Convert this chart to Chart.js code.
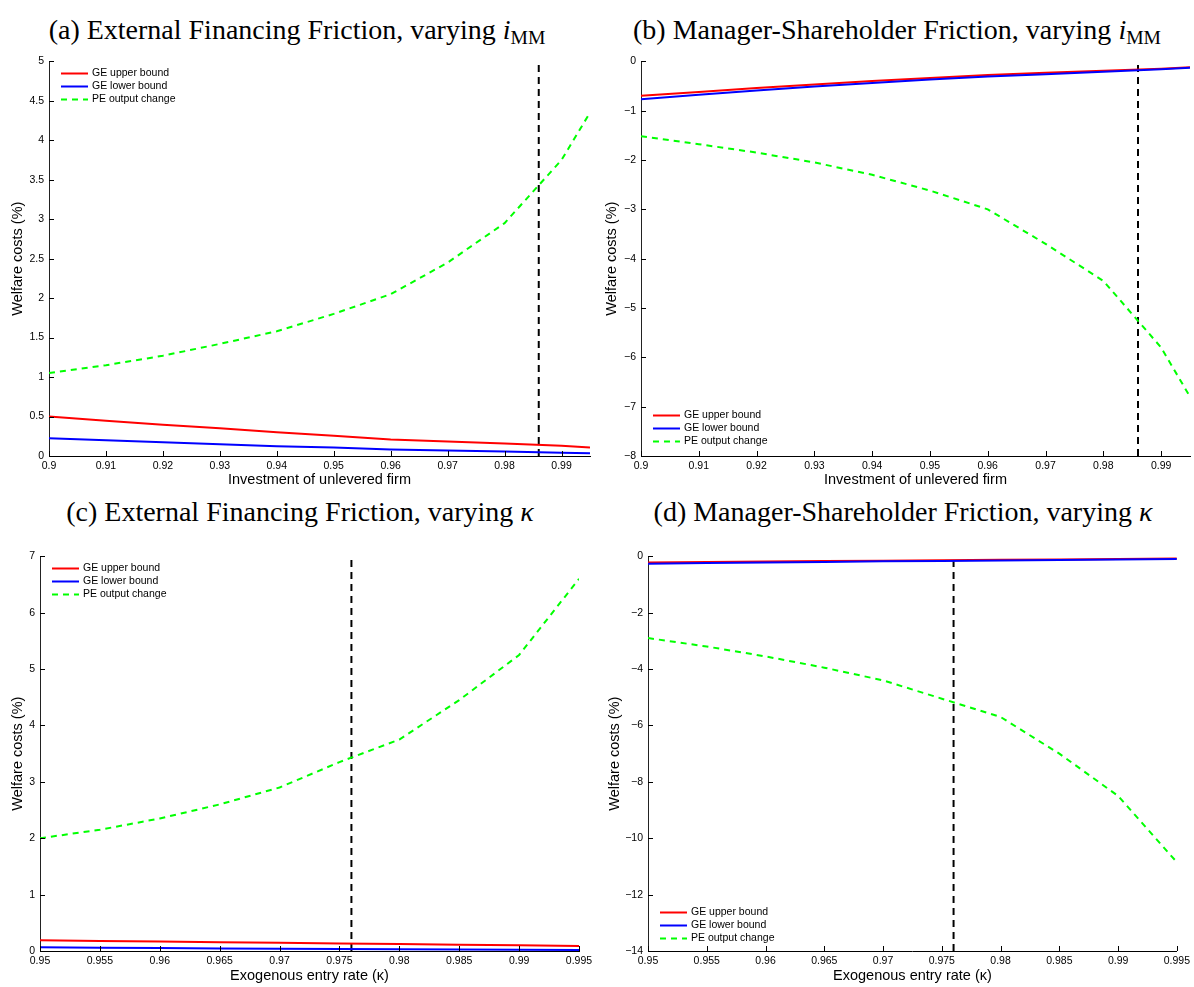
<!DOCTYPE html>
<html>
<head>
<meta charset="utf-8">
<script src="https://cdn.jsdelivr.net/npm/chart.js@4.4.1/dist/chart.umd.min.js"></script>
<style>
  body { margin: 0; background: #fff; }
  #wrap { position: relative; width: 1194px; height: 987px; overflow: hidden; }
  canvas { position: absolute; }
  .ttl {
    position: absolute;
    transform: translateX(-50%);
    white-space: nowrap;
    font-family: "Liberation Serif", "Times New Roman", serif;
    font-size: 28px;
    line-height: 1;
    color: #000;
  }
  .ttl sub { font-size: 70%; vertical-align: -0.25em; line-height: 0; }
</style>
</head>
<body>
<div id="wrap">
  <div class="ttl" style="left:297px; top:16px">(a) External Financing Friction, varying <i>i</i><sub>MM</sub></div>
  <div class="ttl" style="left:897px; top:16px">(b) Manager-Shareholder Friction, varying <i>i</i><sub>MM</sub></div>
  <div class="ttl" style="left:300px; top:498px">(c) External Financing Friction, varying <i>κ</i></div>
  <div class="ttl" style="left:903px; top:498px">(d) Manager-Shareholder Friction, varying <i>κ</i></div>
  <canvas id="ca" width="600" height="442" style="left:0px; top:50px"></canvas>
  <canvas id="cb" width="597" height="442" style="left:597px; top:50px"></canvas>
  <canvas id="cc" width="600" height="442" style="left:0px; top:545px"></canvas>
  <canvas id="cd" width="597" height="442" style="left:597px; top:545px"></canvas>
</div>
<script>
// x grids
const xInvest = [0.9, 0.91, 0.92, 0.93, 0.94, 0.95, 0.96, 0.97, 0.98, 0.99, 0.995];
const xKappa = [0.95, 0.955, 0.96, 0.965, 0.97, 0.975, 0.98, 0.985, 0.99, 0.995];

// (a) external financing, varying i_MM
const aUpper = [0.50, 0.445, 0.395, 0.35, 0.30, 0.255, 0.21, 0.185, 0.158, 0.13, 0.107];
const aLower = [0.226, 0.20, 0.175, 0.15, 0.125, 0.107, 0.081, 0.07, 0.058, 0.042, 0.034];
const aPE = [1.05, 1.15, 1.27, 1.42, 1.58, 1.80, 2.05, 2.45, 2.95, 3.75, 4.35];

// (b) manager-shareholder, varying i_MM
const bUpper = [-0.70, -0.62, -0.54, -0.47, -0.40, -0.34, -0.28, -0.23, -0.19, -0.15, -0.12];
const bLower = [-0.77, -0.68, -0.59, -0.51, -0.44, -0.37, -0.31, -0.26, -0.21, -0.16, -0.13];
const bPE = [-1.52, -1.68, -1.85, -2.05, -2.3, -2.62, -3.0, -3.7, -4.45, -5.8, -6.8];

// (c) external financing, varying kappa
const cUpper = [0.19, 0.178, 0.167, 0.156, 0.145, 0.134, 0.124, 0.113, 0.102, 0.09];
const cLower = [0.065, 0.058, 0.052, 0.046, 0.041, 0.036, 0.031, 0.026, 0.022, 0.018];
const cPE = [2.0, 2.15, 2.35, 2.6, 2.9, 3.35, 3.75, 4.45, 5.25, 6.6];

// (d) manager-shareholder, varying kappa
const dUpper = [-0.22, -0.2, -0.185, -0.17, -0.155, -0.14, -0.125, -0.11, -0.095, -0.08];
const dLower = [-0.26, -0.24, -0.22, -0.2, -0.18, -0.165, -0.15, -0.13, -0.115, -0.1];
const dPE = [-2.9, -3.2, -3.55, -3.95, -4.4, -5.05, -5.7, -7.0, -8.5, -10.85];

// benchmark (vertical dashed line)
const markInvest = 0.986;
const markKappa = 0.976;

// tick labels
const xTicksInvest = [0.9, 0.91, 0.92, 0.93, 0.94, 0.95, 0.96, 0.97, 0.98, 0.99];
const xTicksKappa = [0.95, 0.955, 0.96, 0.965, 0.97, 0.975, 0.98, 0.985, 0.99, 0.995];
const yTicksA = [0, 0.5, 1, 1.5, 2, 2.5, 3, 3.5, 4, 4.5, 5];
const yTicksB = [0, -1, -2, -3, -4, -5, -6, -7, -8];
const yTicksC = [0, 1, 2, 3, 4, 5, 6, 7];
const yTicksD = [0, -2, -4, -6, -8, -10, -12, -14];

const legendLabels = ["GE upper bound", "GE lower bound", "PE output change"];

Chart.defaults.font.family = "'Liberation Sans', Arial, sans-serif";
Chart.defaults.color = "#000";

const pts = (xs, ys) => xs.map((x, i) => ({ x: x, y: ys[i] }));
const fmt = (v) => String(v).replace("-", "\u2212");

// MATLAB style ticks pointing into the plot
const inwardTicks = {
  id: "inwardTicks",
  afterDraw(chart) {
    const { ctx, chartArea: a } = chart;
    const xs = chart.scales.x;
    const ys = chart.scales.y;
    ctx.save();
    ctx.strokeStyle = "#000";
    ctx.lineWidth = 1;
    ctx.beginPath();
    xs.ticks.forEach((t) => {
      const px = Math.round(xs.getPixelForValue(t.value)) + 0.5;
      ctx.moveTo(px, a.bottom);
      ctx.lineTo(px, a.bottom - 5);
    });
    ys.ticks.forEach((t) => {
      const py = Math.round(ys.getPixelForValue(t.value)) + 0.5;
      ctx.moveTo(a.left, py);
      ctx.lineTo(a.left + 5, py);
    });
    ctx.stroke();
    ctx.restore();
  },
};

// legend drawn inside the axes, no box
const insideLegend = {
  id: "insideLegend",
  afterDraw(chart, args, opts) {
    const { ctx, chartArea: a } = chart;
    const y0 = opts.corner === "top" ? a.top + 12 : a.bottom - opts.fromBottom;
    ctx.save();
    ctx.font = "10.5px 'Liberation Sans', Arial, sans-serif";
    ctx.textBaseline = "middle";
    ctx.fillStyle = "#000";
    chart.data.datasets.forEach((ds, i) => {
      if (i > 2) return;
      const y = Math.round(y0 + i * 13) + 0.5;
      ctx.strokeStyle = ds.borderColor;
      ctx.lineWidth = 2;
      ctx.setLineDash(ds.borderDash || []);
      ctx.beginPath();
      ctx.moveTo(a.left + 12, y);
      ctx.lineTo(a.left + 39, y);
      ctx.stroke();
      ctx.fillText(ds.label, a.left + 43, y);
    });
    ctx.restore();
  },
};

function makePanel(id, p) {
  const yMin = Math.min(...p.yTicks);
  const yMax = Math.max(...p.yTicks);
  new Chart(document.getElementById(id), {
    type: "line",
    data: {
      datasets: [
        { label: legendLabels[0], data: pts(p.xs, p.upper), borderColor: "#ff0000", borderWidth: 2, order: 3 },
        { label: legendLabels[1], data: pts(p.xs, p.lower), borderColor: "#0000ff", borderWidth: 2, order: 2 },
        { label: legendLabels[2], data: pts(p.xs, p.pe), borderColor: "#00ff00", borderWidth: 2, borderDash: [6, 5], order: 1 },
        {
          label: "mark",
          data: [{ x: p.mark, y: yMin }, { x: p.mark, y: yMax }],
          borderColor: "#000",
          borderWidth: 2,
          borderDash: [7, 5],
          order: 4,
        },
      ],
    },
    options: {
      responsive: false,
      animation: false,
      devicePixelRatio: 1,
      elements: { point: { radius: 0 }, line: { tension: 0 } },
      layout: { padding: { top: p.padTop, right: p.padRight, left: 0, bottom: 0 } },
      plugins: {
        legend: { display: false },
        tooltip: { enabled: false },
        insideLegend: { corner: p.corner, fromBottom: p.fromBottom },
      },
      scales: {
        x: {
          type: "linear",
          min: p.xs[0],
          max: p.xs[p.xs.length - 1],
          afterBuildTicks: (s) => { s.ticks = p.xTicks.map((v) => ({ value: v })); },
          afterFit: (s) => { s.height = 36; },
          grid: { display: false, drawTicks: false },
          border: { display: true, color: "#000", width: 1 },
          ticks: { padding: 4, maxRotation: 0, autoSkip: false, font: { size: 10.5 }, callback: (v) => fmt(v) },
          title: { display: true, text: p.xTitle, font: { size: 14.5 }, padding: { top: 0, bottom: p.xTitlePad } },
        },
        y: {
          type: "linear",
          min: yMin,
          max: yMax,
          afterBuildTicks: (s) => { s.ticks = p.yTicks.map((v) => ({ value: v })); },
          afterFit: (s) => { s.width = p.yWidth; },
          grid: { display: false, drawTicks: false },
          border: { display: true, color: "#222", width: 1 },
          ticks: { padding: 5, autoSkip: false, font: { size: 10.5 }, callback: (v) => fmt(v) },
          title: { display: true, text: "Welfare costs (%)", font: { size: 14.5 }, padding: { top: p.yTitlePad, bottom: 0 } },
        },
      },
    },
    plugins: [inwardTicks, insideLegend],
  });
}

makePanel("ca", {
  xs: xInvest, upper: aUpper, lower: aLower, pe: aPE, mark: markInvest,
  xTicks: xTicksInvest, yTicks: yTicksA, xTitle: "Investment of unlevered firm",
  padTop: 11, padRight: 10, yWidth: 49, yTitlePad: 9, xTitlePad: 3, corner: "top",
});
makePanel("cb", {
  xs: xInvest, upper: bUpper, lower: bLower, pe: bPE, mark: markInvest,
  xTicks: xTicksInvest, yTicks: yTicksB, xTitle: "Investment of unlevered firm",
  padTop: 11, padRight: 4, yWidth: 44, yTitlePad: 6, xTitlePad: 3, corner: "bottom", fromBottom: 41,
});
makePanel("cc", {
  xs: xKappa, upper: cUpper, lower: cLower, pe: cPE, mark: markKappa,
  xTicks: xTicksKappa, yTicks: yTicksC, xTitle: "Exogenous entry rate (\u03BA)",
  padTop: 10, padRight: 21, yWidth: 40, yTitlePad: 9, xTitlePad: 2, corner: "top",
});
makePanel("cd", {
  xs: xKappa, upper: dUpper, lower: dLower, pe: dPE, mark: markKappa,
  xTicks: xTicksKappa, yTicks: yTicksD, xTitle: "Exogenous entry rate (\u03BA)",
  padTop: 10, padRight: 11, yWidth: 51, yTitlePad: 9, xTitlePad: 2, corner: "bottom", fromBottom: 39,
});
</script>
</body>
</html>
